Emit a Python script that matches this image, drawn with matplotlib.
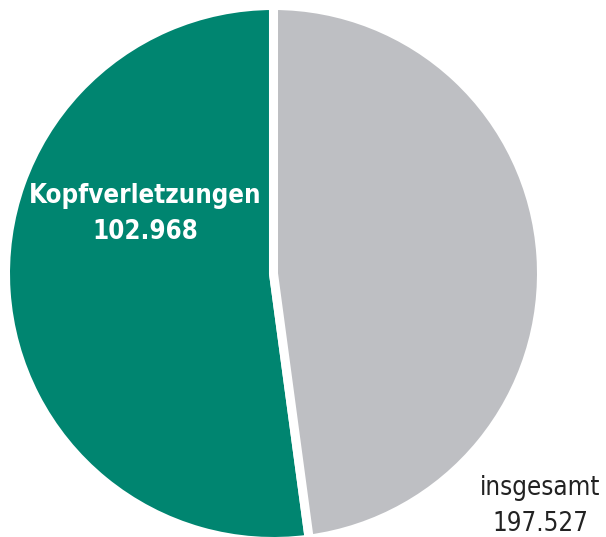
import matplotlib.pyplot as plt

labels = ["Kopfverletzungen", "sonstige"]
values = [102968, 94559]
total = 197527
colors = ["#008570", "#BEBFC3"]

plt.rcParams["font.family"] = ["DejaVu Sans"]

fig = plt.figure(figsize=(6.06, 5.37), dpi=100)
ax = fig.add_axes([0, 0, 1, 1])

# white edges give the gap between the two slices
ax.pie(values, colors=colors, startangle=90, counterclock=True,
       center=(273.5, 263.5), radius=268, frame=True,
       wedgeprops=dict(edgecolor="white", linewidth=6.5))
ax.set_xlim(0, 606)
ax.set_ylim(0, 537)
ax.set_aspect("equal")
ax.axis("off")

ax.text(145, 323, f"{labels[0]}\n{values[0]:,}".replace(",", "."),
        ha="center", va="center", color="white", fontsize=18.5,
        fontweight="bold", fontstretch="condensed", linespacing=1.5)
ax.text(540, 31, f"insgesamt\n{total:,}".replace(",", "."),
        ha="center", va="center", color="#222222", fontsize=18.5,
        fontstretch="condensed", linespacing=1.5)

fig.savefig("out.png", dpi=100)
